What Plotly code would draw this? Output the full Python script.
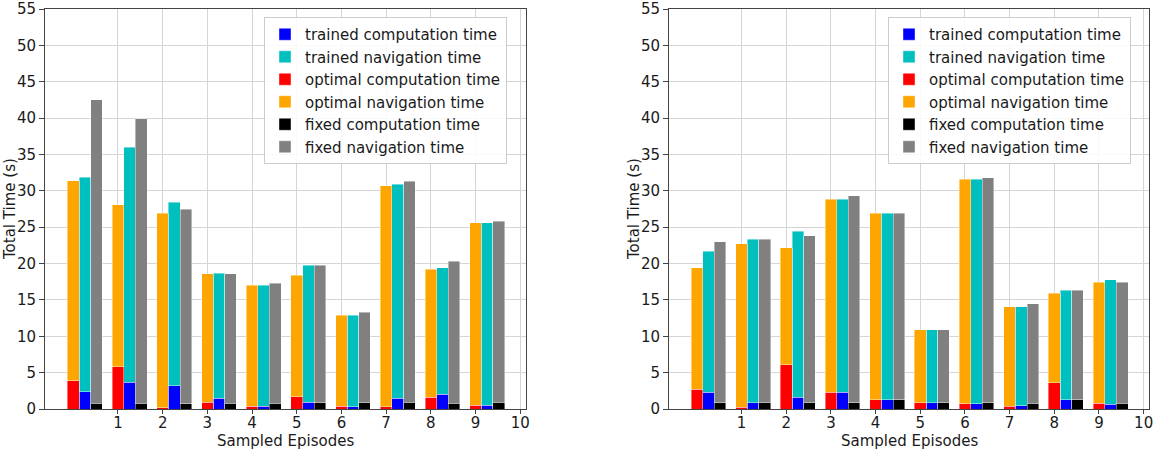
import numpy as np
import plotly.graph_objects as go

episodes = np.arange(10)
tick_vals = list(range(1, 11))

# ---- left chart ----
L_opt_comp = [3.9, 5.8, 0.2, 0.9, 0.4, 1.7, 0.4, 0.3, 1.6, 0.55]
L_opt_nav = [27.5, 22.3, 26.7, 17.7, 16.6, 16.7, 12.5, 30.4, 17.6, 25.05]
L_trn_comp = [2.4, 3.7, 3.2, 1.5, 0.4, 0.9, 0.3, 1.5, 2.0, 0.5]
L_trn_nav = [29.5, 32.3, 25.2, 17.2, 16.6, 18.85, 12.6, 29.4, 17.4, 25.1]
L_fix_comp = [0.8, 0.8, 0.75, 0.8, 0.8, 0.85, 0.85, 0.9, 0.8, 0.9]
L_fix_nav = [41.7, 39.1, 26.75, 17.8, 16.5, 18.9, 12.45, 30.4, 19.5, 24.9]

# ---- right chart ----
R_opt_comp = [2.7, 0.27, 6.1, 2.3, 1.3, 0.85, 0.75, 0.4, 3.6, 0.8]
R_opt_nav = [16.7, 22.43, 16.1, 26.55, 25.65, 10.05, 30.85, 13.65, 12.35, 16.6]
R_trn_comp = [2.3, 0.85, 1.6, 2.3, 1.3, 0.85, 0.75, 0.45, 1.3, 0.65]
R_trn_nav = [19.4, 22.5, 22.85, 26.55, 25.65, 10.05, 30.85, 13.6, 15.05, 17.15]
R_fix_comp = [0.85, 0.85, 0.85, 0.85, 1.3, 0.85, 0.85, 0.8, 1.3, 0.8]
R_fix_nav = [22.15, 22.5, 22.95, 28.45, 25.65, 10.05, 30.95, 13.7, 15.05, 16.6]

names = ["trained computation time", "trained navigation time",
         "optimal computation time", "optimal navigation time",
         "fixed computation time", "fixed navigation time"]
colors = ["#0000FF", "#00BFBF", "#FF0000", "#FFA500", "#000000", "#808080"]
offsets = [0.26, 0.26, 0.0, 0.0, 0.52, 0.52]
BAR_W = 0.26
X_TITLE = "Sampled Episodes"
Y_TITLE = "Total Time (s)"

fig = go.Figure()

panels = [
    ("x", "y", "legend", [L_trn_comp, L_trn_nav, L_opt_comp, L_opt_nav, L_fix_comp, L_fix_nav]),
    ("x2", "y2", "legend2", [R_trn_comp, R_trn_nav, R_opt_comp, R_opt_nav, R_fix_comp, R_fix_nav]),
]
for xa, ya, lg, series in panels:
    for name, col, off, vals in zip(names, colors, offsets, series):
        fig.add_trace(go.Bar(
            x=episodes + off, y=vals, width=BAR_W, name=name,
            marker=dict(color=col, line=dict(color="rgba(255,255,255,0.7)", width=0.6)),
            xaxis=xa, yaxis=ya, legend=lg,
        ))

FONT = dict(family="DejaVu Sans", size=15, color="#1a1a1a")
base_axis = dict(showline=True, mirror=True, linecolor="#444", linewidth=1,
                 showgrid=True, gridcolor="#d5d5d5", gridwidth=1.2,
                 tickcolor="#444", tickfont=FONT, zeroline=False, automargin=False)
y_axis_style = dict(base_axis, ticks="outside", ticklen=5)
x_axis_style = dict(base_axis, ticks="outside", ticklen=4, ticklabelstandoff=-4,
                    ticklabeloverflow="allow")

XD1 = [45/1154, 526/1154]
XD2 = [669/1154, 1149/1154]
YD = [42/451, 442/451]

fig.update_layout(
    template="none",
    width=1154, height=451,
    margin=dict(l=0, r=0, t=0, b=0, pad=0),
    barmode="stack",
    plot_bgcolor="white", paper_bgcolor="white",
    font=FONT,
    xaxis=dict(domain=XD1, range=[-0.633, 10.13], tickvals=tick_vals, anchor="y", **x_axis_style),
    yaxis=dict(domain=YD, range=[0, 55], dtick=5, anchor="x", **y_axis_style),
    xaxis2=dict(domain=XD2, range=[-0.624, 10.12], tickvals=tick_vals, anchor="y2", **x_axis_style),
    yaxis2=dict(domain=YD, range=[0, 55], dtick=5, anchor="x2", **y_axis_style),
    legend=dict(x=264/1154, y=1-17/451, xanchor="left", yanchor="top",
                bgcolor="rgba(255,255,255,0.85)", bordercolor="#cccccc", borderwidth=1,
                font=FONT, traceorder="normal"),
    legend2=dict(x=888/1154, y=1-17/451, xanchor="left", yanchor="top",
                 bgcolor="rgba(255,255,255,0.85)", bordercolor="#cccccc", borderwidth=1,
                 font=FONT, traceorder="normal"),
    showlegend=True,
)

# axis titles
for xc, yc_x in [((XD1[0] + XD1[1]) / 2, 10/1154), ((XD2[0] + XD2[1]) / 2, 634/1154)]:
    fig.add_annotation(text=X_TITLE, x=xc, y=1-441/451, xref="paper", yref="paper",
                       xanchor="center", yanchor="middle", showarrow=False, font=FONT)
    fig.add_annotation(text=Y_TITLE, x=yc_x, y=1-209/451, xref="paper", yref="paper",
                       xanchor="center", yanchor="middle", showarrow=False, font=FONT,
                       textangle=-90)

fig.write_html("out.html",
               config={"displayModeBar": False},
               post_script="document.body.style.margin='0';document.body.style.padding='0';"
                           "document.body.style.overflow='hidden';")
